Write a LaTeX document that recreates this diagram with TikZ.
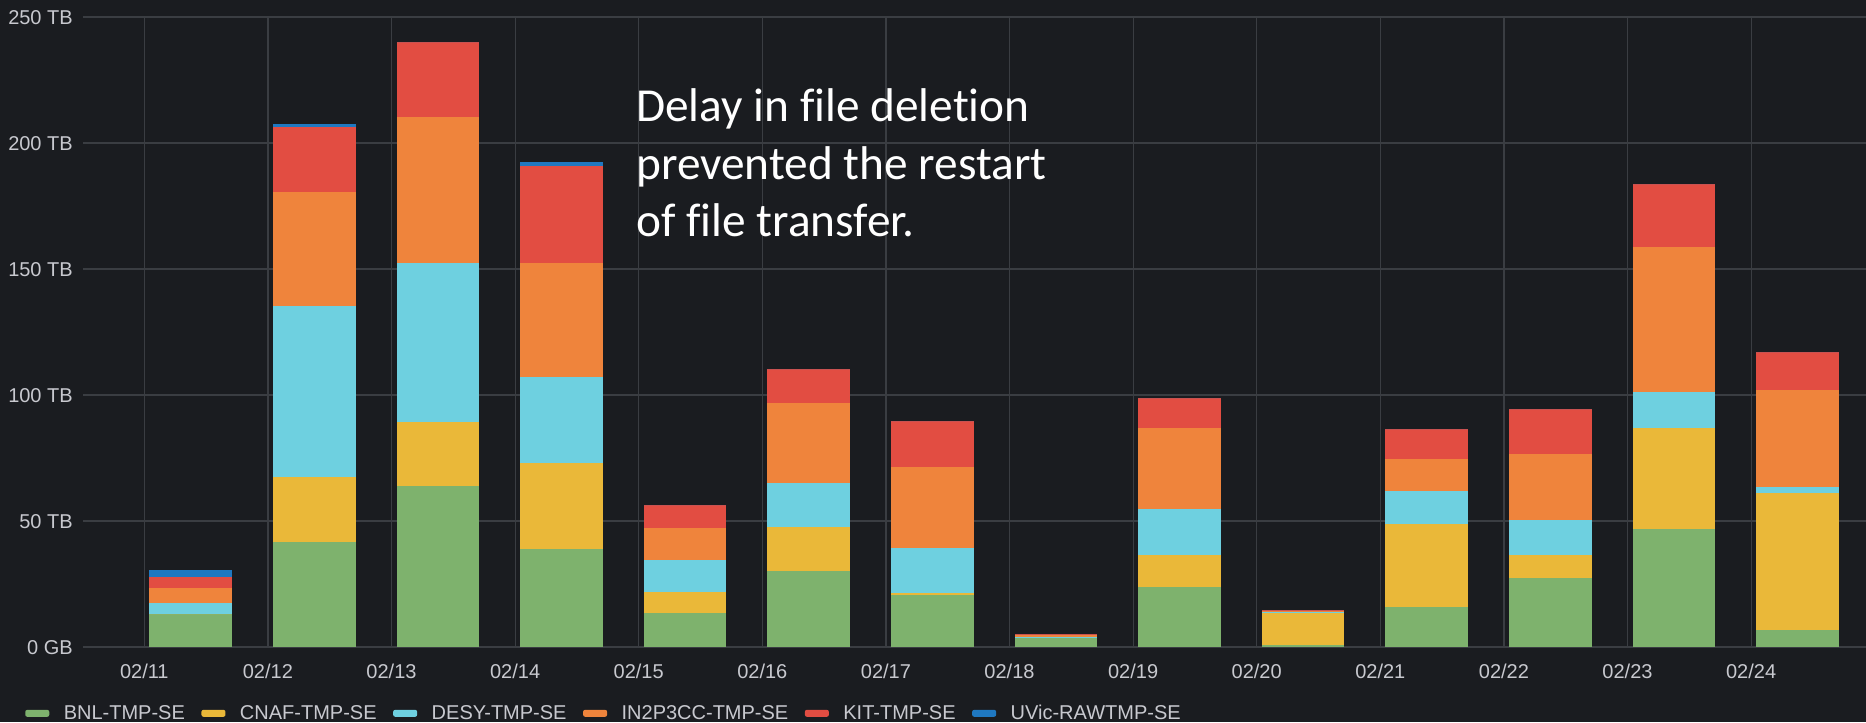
\documentclass[tikz,border=0pt]{standalone}
\usepackage{fontspec}
\setmainfont{Liberation Sans}
\newfontfamily\notefont[Ligatures=NoCommon]{Carlito}
\definecolor{bg}{HTML}{1A1C20}
\definecolor{gridc}{HTML}{3A3D42}
\definecolor{labc}{HTML}{C8C9CF}
\definecolor{cgreen}{HTML}{7EB26D}
\definecolor{cyellow}{HTML}{EAB839}
\definecolor{ccyan}{HTML}{6ED0E0}
\definecolor{corange}{HTML}{EF843C}
\definecolor{cred}{HTML}{E24D42}
\definecolor{cblue}{HTML}{1F78C1}
\tikzset{
  gridline/.style={draw=gridc, line width=0.9pt},
  axlabel/.style={text=labc, font=\fontsize{15}{18}\selectfont, inner sep=0pt},
  legtext/.style={text=labc, font=\fontsize{15}{18}\selectfont, inner sep=0pt, anchor=base west, xshift=10.5pt},
  swatch/.style={rectangle, rounded corners=1.5pt, minimum width=18pt, minimum height=5.2pt, inner sep=0pt, anchor=west},
  notetext/.style={text=white, font=\notefont\fontsize{35.5}{43}\selectfont, inner sep=0pt, anchor=base west}
}
\begin{document}
\begin{tikzpicture}[x=0.75pt,y=-0.75pt]
\fill[bg] (0,0) rectangle (1866,722);
\useasboundingbox (0,0) rectangle (1866,722);
% horizontal grid lines and y labels
\foreach \v/\lab in {0/0 GB,50/50 TB,100/100 TB,150/150 TB,200/200 TB,250/250 TB}{
  \pgfmathsetmacro\yy{647-2.52*\v}
  \draw[gridline] (83,\yy) -- (1866,\yy);
  \node[axlabel, anchor=base east] (ylab\v) at (73,\yy+7.2) {\lab};
}
% vertical grid lines and date labels
\foreach \i/\d in {0/02\slash11,1/02\slash12,2/02\slash13,3/02\slash14,4/02\slash15,5/02\slash16,6/02\slash17,7/02\slash18,8/02\slash19,9/02\slash20,10/02\slash21,11/02\slash22,12/02\slash23,13/02\slash24}{
  \pgfmathsetmacro\xx{144.3+123.6*\i}
  \draw[gridline] (\xx,17) -- (\xx,647);
  \node[axlabel, anchor=base] (date\i) at (\xx,678.2) {\d};
}
% stacked bars: cumulative tops (TB) green, yellow, cyan, orange, red, blue
\foreach \i/\a/\b/\c/\d/\e/\f in {
  0/13.1/13.1/17.3/23.5/27.9/30.6,
  1/41.5/67.6/135.4/180.6/206.5/207.4,
  2/63.9/89.4/152.4/210.3/240.2/240.2,
  3/38.8/72.9/107.3/152.5/191.0/192.6,
  4/13.4/21.7/34.7/47.4/56.2/56.2,
  5/30.2/47.5/65.0/97.0/110.3/110.3,
  6/20.5/21.3/39.2/71.3/89.7/89.7,
  7/3.4/4.0/4.1/4.6/5.0/5.0,
  8/23.7/36.6/54.6/87.0/98.7/98.7,
  9/0.7/13.5/13.7/14.2/14.7/14.7,
  10/15.8/48.7/61.9/74.6/86.4/86.4,
  11/27.4/36.5/50.3/76.7/94.3/94.3,
  12/46.8/86.8/101.2/158.9/183.9/183.9,
  13/6.6/61.2/63.6/102.1/117.1/117.1}{
  \pgfmathsetmacro\xl{149.3+123.6*\i}
  \pgfmathsetmacro\xr{\xl+82.7}
  \fill[cgreen]  (\xl,647) rectangle (\xr,{647-2.52*\a});
  \fill[cyellow] (\xl,{647-2.52*\a}) rectangle (\xr,{647-2.52*\b});
  \fill[ccyan]   (\xl,{647-2.52*\b}) rectangle (\xr,{647-2.52*\c});
  \fill[corange] (\xl,{647-2.52*\c}) rectangle (\xr,{647-2.52*\d});
  \fill[cred]    (\xl,{647-2.52*\d}) rectangle (\xr,{647-2.52*\e});
  \fill[cblue]   (\xl,{647-2.52*\e}) rectangle (\xr,{647-2.52*\f});
}
% annotation
\node[notetext] (note1) at (636,121.7) {Delay in file deletion};
\node[notetext] (note2) at (636,179.3) {prevented the restart};
\node[notetext] (note3) at (636,236.8) {of file transfer.};
% legend
\coordinate (sw) at (0,713.3);
\coordinate (bl) at (0,719.3);
\node[swatch, fill=cgreen] (s1) at (25,713.3) {};
\node[legtext] (t1) at (s1.east |- bl) {BNL-TMP-SE};
\node[swatch, fill=cyellow, xshift=12pt] (s2) at (t1.east |- sw) {};
\node[legtext] (t2) at (s2.east |- bl) {CNAF-TMP-SE};
\node[swatch, fill=ccyan, xshift=12pt] (s3) at (t2.east |- sw) {};
\node[legtext] (t3) at (s3.east |- bl) {DESY-TMP-SE};
\node[swatch, fill=corange, xshift=12pt] (s4) at (t3.east |- sw) {};
\node[legtext] (t4) at (s4.east |- bl) {IN2P3CC-TMP-SE};
\node[swatch, fill=cred, xshift=12pt] (s5) at (t4.east |- sw) {};
\node[legtext] (t5) at (s5.east |- bl) {KIT-TMP-SE};
\node[swatch, fill=cblue, xshift=12pt] (s6) at (t5.east |- sw) {};
\node[legtext] (t6) at (s6.east |- bl) {UVic-RAWTMP-SE};
\end{tikzpicture}
\end{document}
